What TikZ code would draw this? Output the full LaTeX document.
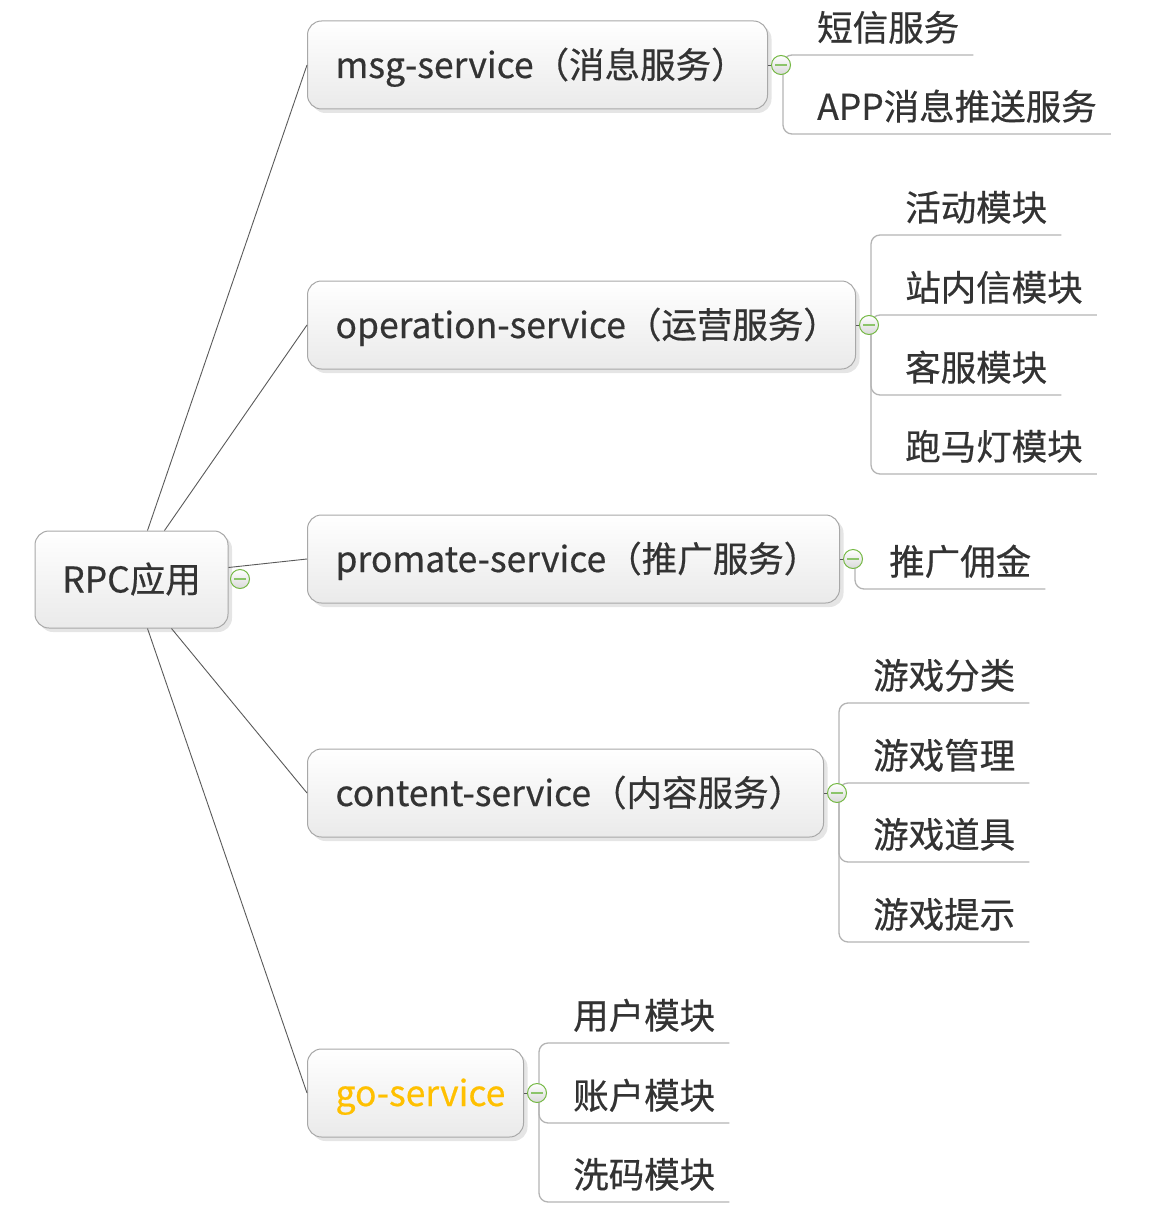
\documentclass[tikz,border=0pt]{standalone}
\usepackage{fontspec}
\setmainfont[FakeBold=0.5]{Noto Sans CJK SC}
\usetikzlibrary{shadows,calc}
\definecolor{txt}{HTML}{333333}
\definecolor{boxline}{HTML}{A8A8A8}
\definecolor{boxbot}{HTML}{EAEAEA}
\definecolor{ulgray}{HTML}{B4B4B4}
\definecolor{conngray}{HTML}{5A5A5A}
\definecolor{icongreen}{HTML}{74B843}
\definecolor{iconbar}{HTML}{8CC46A}
\definecolor{goyellow}{HTML}{FFC000}
\tikzset{
  box/.style={draw=boxline, line width=1pt, rounded corners=14pt,
    top color=white, bottom color=boxbot,
    drop shadow={shadow xshift=4pt, shadow yshift=-4pt, fill=black, opacity=0.10},
    minimum height=88pt, text=txt, inner ysep=0pt, text height=32pt, text depth=6pt},
  svc/.style={box, anchor=west, inner xsep=28pt, align=left, text width=#1-56pt},
  collapse/.style={circle, draw=icongreen, line width=1pt, inner sep=0pt, minimum size=19pt,
    top color=white, bottom color=gray!30,
    path picture={\draw[iconbar, line width=2pt]
      ($(path picture bounding box.center)+(-6,0)$) -- ($(path picture bounding box.center)+(6,0)$);}},
  leaf/.style={anchor=south west, inner xsep=14pt, inner ysep=0pt, text height=30pt, text depth=14pt, text=txt},
  branch/.style={draw=ulgray, line width=1.3pt, rounded corners=9pt},
  conn/.style={draw=conngray, line width=0.9pt}
}
\begin{document}
\begin{tikzpicture}[x=1pt,y=-1pt, font=\fontsize{35.5}{42}\selectfont]
\useasboundingbox[fill=white] (0,0) rectangle (1148,1220);

% root
\node[box, inner xsep=0pt, minimum width=193pt, minimum height=97pt] (rpc) at (131.5,579.5) {RPC应用};
\node[collapse] (crpc) at (240,579) {};

% service boxes
\node[svc=460pt] (msg) at (307,65) {\mbox{msg-service（消息服务）}};
\node[svc=548pt] (op) at (307,325) {\mbox{operation-service（运营服务）}};
\node[svc=532pt] (pro) at (307,559) {\mbox{promate-service（推广服务）}};
\node[svc=516pt] (con) at (307,793) {\mbox{content-service（内容服务）}};
\node[svc=216pt, text=goyellow] (go) at (307,1093) {\mbox{go-service}};

% root connectors
\draw[conn] ([xshift=16pt]rpc.north) -- (msg.west);
\draw[conn] ([xshift=33pt]rpc.north) -- (op.west);
\draw[conn] ([yshift=12pt]rpc.east) -- (pro.west);
\draw[conn] ([xshift=40pt]rpc.south) -- (con.west);
\draw[conn] ([xshift=16pt]rpc.south) -- (go.west);

% branch points
\coordinate (pmsg) at (783,65);
\coordinate (pop) at (871,325);
\coordinate (ppro) at (855,559);
\coordinate (pcon) at (839,793);
\coordinate (pgo) at (539,1093);

% leaves
\node[leaf] (m1) at (803,55) {短信服务};
\node[leaf] (m2) at (803,134) {APP消息推送服务};

\node[leaf] (o1) at (891,235) {活动模块};
\node[leaf] (o2) at (891,315) {站内信模块};
\node[leaf] (o3) at (891,395) {客服模块};
\node[leaf] (o4) at (891,474) {跑马灯模块};

\node[leaf] (p1) at (875,589) {推广佣金};

\node[leaf] (c1) at (859,703) {游戏分类};
\node[leaf] (c2) at (859,783) {游戏管理};
\node[leaf] (c3) at (859,862) {游戏道具};
\node[leaf] (c4) at (859,942) {游戏提示};

\node[leaf] (g1) at (559,1043) {用户模块};
\node[leaf] (g2) at (559,1123) {账户模块};
\node[leaf] (g3) at (559,1202) {洗码模块};

% branches
\foreach \l in {m1,m2} \draw[branch] (pmsg) |- (\l.south east);
\foreach \l in {o1,o2,o3,o4} \draw[branch] (pop) |- (\l.south east);
\foreach \l in {p1} \draw[branch] (ppro) |- (\l.south east);
\foreach \l in {c1,c2,c3,c4} \draw[branch] (pcon) |- (\l.south east);
\foreach \l in {g1,g2,g3} \draw[branch] (pgo) |- (\l.south east);

% box to icon stubs
\draw[conn] (msg.east) -- (pmsg);
\draw[conn] (op.east) -- (pop);
\draw[conn] (pro.east) -- (ppro);
\draw[conn] (con.east) -- (pcon);
\draw[conn] (go.east) -- (pgo);

% collapse icons
\node[collapse] (cmsg) at ([xshift=-2pt]pmsg) {};
\node[collapse] (cop) at ([xshift=-2pt]pop) {};
\node[collapse] (cpro) at ([xshift=-2pt]ppro) {};
\node[collapse] (ccon) at ([xshift=-2pt]pcon) {};
\node[collapse] (cgo) at ([xshift=-2pt]pgo) {};
\end{tikzpicture}
\end{document}
